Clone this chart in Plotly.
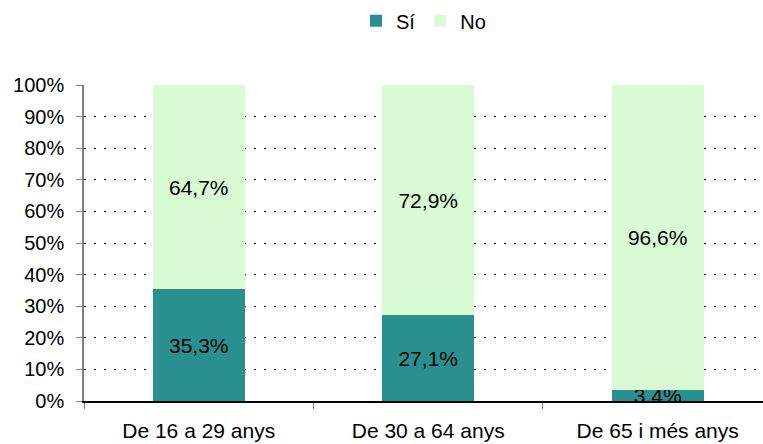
import plotly.graph_objects as go

# Age groups and shares (%) for each answer
categories = ["De 16 a 29 anys", "De 30 a 64 anys", "De 65 i més anys"]
si_values = [35.3, 27.1, 3.4]
no_values = [64.7, 72.9, 96.6]
y_ticks = [0, 10, 20, 30, 40, 50, 60, 70, 80, 90, 100]

FONT = "Liberation Sans, Arial, sans-serif"
SI_COLOR = "#2A8F8F"
NO_COLOR = "#D8FBD4"


def pct_label(v):
    return f"{v:.1f}%".replace(".", ",")


fig = go.Figure()
fig.add_trace(go.Bar(
    name="Sí", x=categories, y=si_values,
    marker=dict(color=SI_COLOR, line=dict(width=0)),
    text=[pct_label(v) for v in si_values],
    textposition="inside", insidetextanchor="middle", constraintext="none",
    textfont=dict(family=FONT, size=21, color="#000000"),
))
fig.add_trace(go.Bar(
    name="No", x=categories, y=no_values,
    marker=dict(color=NO_COLOR, line=dict(width=0)),
    text=[pct_label(v) for v in no_values],
    textposition="inside", insidetextanchor="middle", constraintext="none",
    textfont=dict(family=FONT, size=21, color="#000000"),
))

fig.update_layout(
    width=763, height=444,
    margin=dict(l=84, r=0, t=85, b=43),
    barmode="stack", bargap=0.6,
    paper_bgcolor="white", plot_bgcolor="white",
    font=dict(family=FONT, size=20, color="#000000"),
    uniformtext=dict(minsize=20, mode="show"),
    showlegend=True,
    legend=dict(
        orientation="h", x=0.5, xanchor="center", y=1.265, yanchor="top",
        traceorder="normal", font=dict(family=FONT, size=20),
        itemwidth=30, tracegroupgap=0,
    ),
)

fig.update_xaxes(
    type="category", range=[-0.5, 2.459],
    showline=True, linecolor="#000000", linewidth=1.5,
    ticks="outside", tickson="boundaries", ticklen=6, tickcolor="#808080",
    ticklabelstandoff=10, showgrid=False,
    tickfont=dict(family=FONT, size=21, color="#000000"),
)
fig.update_yaxes(
    range=[0, 100], tickvals=y_ticks, ticktext=[f"{v}%" for v in y_ticks],
    showline=True, linecolor="#808080", linewidth=1.5,
    ticks="outside", ticklen=6, tickcolor="#808080",
    ticklabelstandoff=8,
    showgrid=True, gridcolor="#000000", gridwidth=1, griddash="2px,8px",
    zeroline=False,
    tickfont=dict(family=FONT, size=20, color="#000000"),
)

fig.write_html("out.html")
